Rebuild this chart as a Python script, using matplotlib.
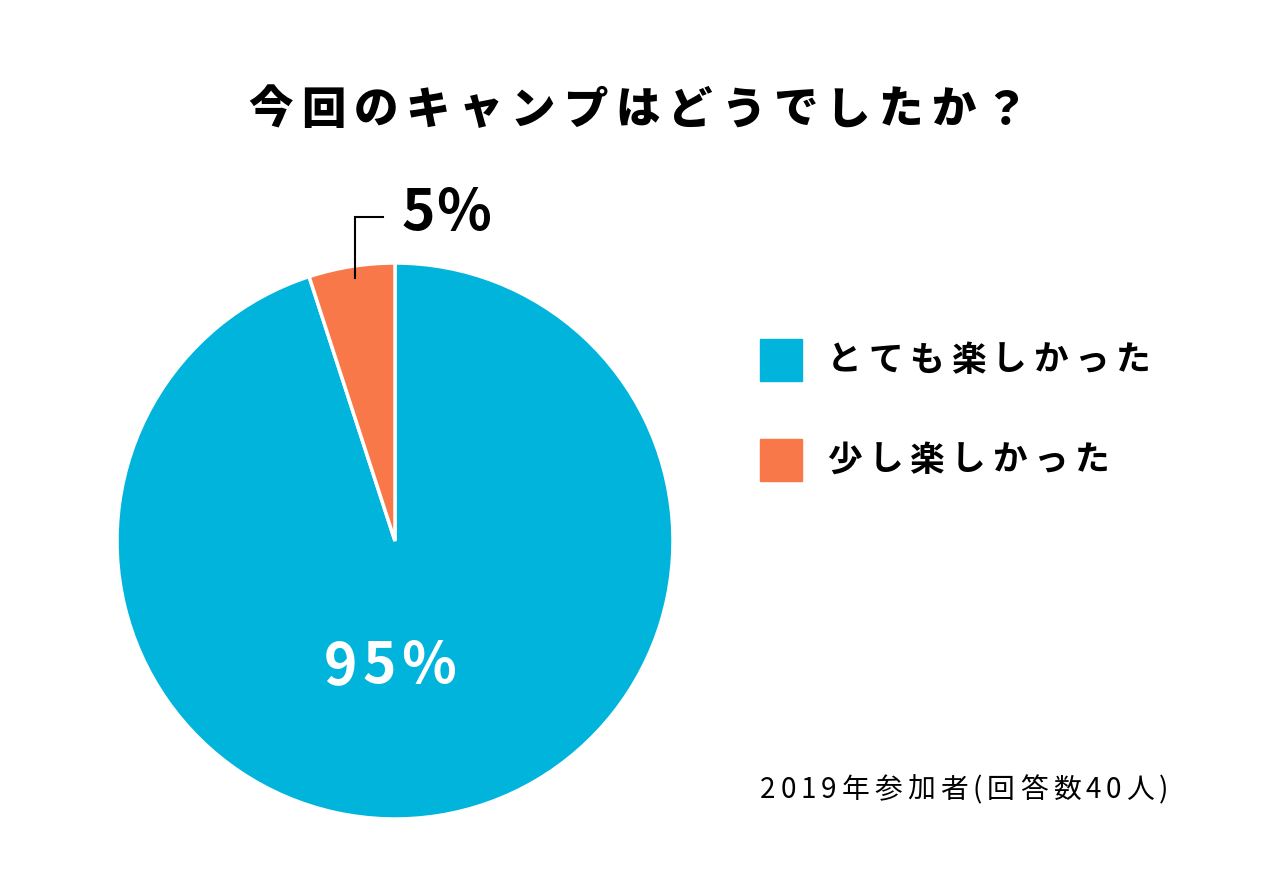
import matplotlib
matplotlib.use('Agg')
import matplotlib.pyplot as plt
from matplotlib.patches import Rectangle

plt.rcParams['font.family'] = ['Noto Sans CJK JP', 'DejaVu Sans']

# データ
title = '今回のキャンプはどうでしたか？'
labels = ['とても楽しかった', '少し楽しかった']
values = [95, 5]
colors = ['#00B4DC', '#F9784A']
note = '2019年参加者(回答数40人)'

W, H = 1284, 896
fig = plt.figure(figsize=(W / 100, H / 100), dpi=100)

# 背景用の座標（ピクセル単位）
bg = fig.add_axes([0, 0, 1, 1])
bg.set_xlim(0, W)
bg.set_ylim(H, 0)
bg.axis('off')

renderer = fig.canvas.get_renderer()


def spaced_text(x, y, s, spacing, ha='left', zorder=5, **kw):
    # 文字間隔をあけて一文字ずつ描く
    widths = []
    for ch in s:
        t = bg.text(0, 0, ch, **kw)
        widths.append(t.get_window_extent(renderer).width)
        t.remove()
    total = sum(widths) + spacing * (len(s) - 1)
    if ha == 'center':
        x = x - total / 2
    for ch, w in zip(s, widths):
        bg.text(x, y, ch, ha='left', va='center', zorder=zorder, **kw)
        x += w + spacing


# タイトル
spaced_text(638, 110, title, 8, ha='center', fontsize=32, fontweight='heavy')

# 円グラフ
cx, cy, r = 395, 541, 278
pie_ax = fig.add_axes([(cx - r) / W, (H - cy - r) / H, 2 * r / W, 2 * r / H])
wedges, _ = pie_ax.pie(values, colors=colors, startangle=90, counterclock=False,
                       wedgeprops=dict(edgecolor='white', linewidth=2.5))
pie_ax.set_xlim(-1, 1)
pie_ax.set_ylim(-1, 1)
pie_ax.plot([-0.144, -0.144, -0.043], [0.945, 1.165, 1.165], color='black',
            linewidth=1.5, clip_on=False, solid_joinstyle='miter')

# ラベルは前面の座標系に描く
bg.set_zorder(3)
bg.patch.set_visible(False)
spaced_text(cx - 5, cy + 126, f'{values[0]}%', 5, ha='center', color='white',
            fontsize=41, fontweight='bold')
spaced_text(402, 214, f'{values[1]}%', 1, color='black',
            fontsize=41, fontweight='bold')

# 凡例
for i, (lab, col) in enumerate(zip(labels, colors)):
    y0 = 339 + i * 100
    bg.add_patch(Rectangle((760, y0), 42, 42, color=col))
    spaced_text(827, y0 + 21, lab, 6.5, fontsize=25, fontweight='bold')

# 注記
spaced_text(760, 790, note, 5, fontsize=20)

fig.savefig('out.png', dpi=100, facecolor='white')
